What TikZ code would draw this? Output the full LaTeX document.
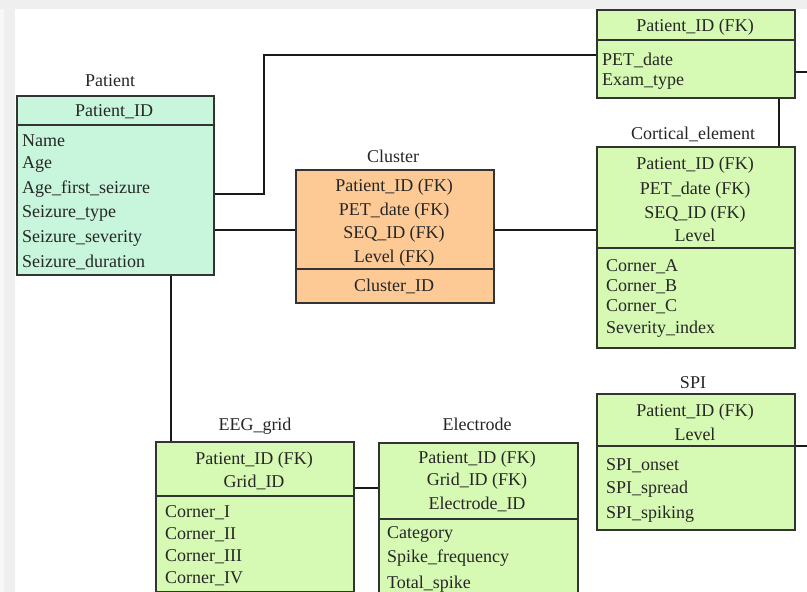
\documentclass[tikz,border=0pt]{standalone}
\usepackage{fontspec}
\setmainfont{Liberation Serif}
\begin{document}
\begin{tikzpicture}[x=1pt,y=-1pt,
  tbl/.style={draw=black!80,line width=1.6pt,inner sep=0pt,anchor=north west},
  divider/.style={draw=black!80,line width=1.6pt},
  link/.style={draw=black!90,line width=1.6pt},
  txt/.style={font=\fontsize{18}{21}\selectfont,inner sep=0pt,yshift=-4.5pt,text=black!85},
  ttl/.style={txt,anchor=mid},
  key/.style={txt,anchor=mid},
  attr/.style={txt,anchor=mid west}]
\definecolor{mint}{RGB}{200,246,220}
\definecolor{peach}{RGB}{253,201,149}
\definecolor{lime}{RGB}{214,249,180}
\definecolor{frame}{RGB}{239,239,239}
\useasboundingbox (0,0) rectangle (807,592);
% page frame
\fill[white] (0,0) rectangle (807,592);
\fill[frame] (0,0) rectangle (807,9);
\fill[frame] (0,0) rectangle (15,592);
\fill[black!3] (0,9) rectangle (4,592);
\begin{scope}
\clip (15,9) rectangle (807,592);
% Patient
\node[tbl,fill=mint,minimum width=197pt,minimum height=179pt] (pat) at (16,95) {};
\draw[divider] (16,125) -- (213,125);
\node[ttl] (patT) at (110,80) {Patient};
\node[key] (pat0) at (114,110) {Patient\_ID};
\node[attr] (pat1) at (22,140) {Name};
\node[attr] (pat2) at (22,162) {Age};
\node[attr] (pat3) at (22,187) {Age\_first\_seizure};
\node[attr] (pat4) at (22,211) {Seizure\_type};
\node[attr] (pat5) at (22,236) {Seizure\_severity};
\node[attr] (pat6) at (22,261) {Seizure\_duration};
% Cluster
\node[tbl,fill=peach,minimum width=198pt,minimum height=133pt] (clu) at (295,169) {};
\draw[divider] (295,269) -- (493,269);
\node[ttl] (cluT) at (393,156) {Cluster};
\node[key] (clu1) at (394,185) {Patient\_ID (FK)};
\node[key] (clu2) at (394,209) {PET\_date (FK)};
\node[key] (clu3) at (394,232) {SEQ\_ID (FK)};
\node[key] (clu4) at (394,256) {Level (FK)};
\node[key] (clu5) at (394,285) {Cluster\_ID};
% PET examination
\node[tbl,fill=lime,minimum width=198pt,minimum height=88pt] (pet) at (596,9) {};
\draw[divider] (596,40) -- (794,40);
\node[key] (pet0) at (695,25) {Patient\_ID (FK)};
\node[attr] (pet1) at (602,59) {PET\_date};
\node[attr] (pet2) at (602,79) {Exam\_type};
% Cortical_element
\node[tbl,fill=lime,minimum width=198pt,minimum height=201pt] (cor) at (596,146) {};
\draw[divider] (596,248) -- (794,248);
\node[ttl] (corT) at (693,133) {Cortical\_element};
\node[key] (cor1) at (695,163) {Patient\_ID (FK)};
\node[key] (cor2) at (695,188) {PET\_date (FK)};
\node[key] (cor3) at (695,212) {SEQ\_ID (FK)};
\node[key] (cor4) at (695,235) {Level};
\node[attr] (cor5) at (606,265) {Corner\_A};
\node[attr] (cor6) at (606,285) {Corner\_B};
\node[attr] (cor7) at (606,305) {Corner\_C};
\node[attr] (cor8) at (606,327) {Severity\_index};
% SPI
\node[tbl,fill=lime,minimum width=198pt,minimum height=136pt] (spi) at (596,393) {};
\draw[divider] (596,446) -- (794,446);
\node[ttl] (spiT) at (693,382) {SPI};
\node[key] (spi1) at (695,410) {Patient\_ID (FK)};
\node[key] (spi2) at (695,434) {Level};
\node[attr] (spi3) at (606,464) {SPI\_onset};
\node[attr] (spi4) at (606,487) {SPI\_spread};
\node[attr] (spi5) at (606,512) {SPI\_spiking};
% EEG_grid
\node[tbl,fill=lime,minimum width=198pt,minimum height=150pt] (eeg) at (155,441) {};
\draw[divider] (155,496) -- (353,496);
\node[ttl] (eegT) at (255,424) {EEG\_grid};
\node[key] (eeg1) at (254,458) {Patient\_ID (FK)};
\node[key] (eeg2) at (254,481) {Grid\_ID};
\node[attr] (eeg3) at (165,511) {Corner\_I};
\node[attr] (eeg4) at (165,533) {Corner\_II};
\node[attr] (eeg5) at (165,555) {Corner\_III};
\node[attr] (eeg6) at (165,577) {Corner\_IV};
% Electrode
\node[tbl,fill=lime,minimum width=199pt,minimum height=170pt] (ele) at (378,442) {};
\draw[divider] (378,519) -- (577,519);
\node[ttl] (eleT) at (477,424) {Electrode};
\node[key] (ele1) at (477,457) {Patient\_ID (FK)};
\node[key] (ele2) at (477,479) {Grid\_ID (FK)};
\node[key] (ele3) at (477,503) {Electrode\_ID};
\node[attr] (ele4) at (387,532) {Category};
\node[attr] (ele5) at (387,556) {Spike\_frequency};
\node[attr] (ele6) at (387,582) {Total\_spike};
% relations
\coordinate (petOut) at (807,72);
\coordinate (spiOut) at (807,446);
\draw[link] (pat.east |- 0,194) -| (264,55) -- (pet.west |- 0,55);
\draw[link] (pat.east |- 0,230) -- (clu.west |- 0,230);
\draw[link] (clu.east |- 0,230) -- (cor.west |- 0,230);
\draw[link] (pat.south -| 171,0) -- (eeg.north -| 171,0);
\draw[link] (eeg.east |- 0,488) -- (ele.west |- 0,488);
\draw[link] (pet.south -| 779,0) -- (cor.north -| 779,0);
\draw[link] (pet.east |- petOut) -- (petOut);
\draw[link] (spi.east |- spiOut) -- (spiOut);
\end{scope}
\end{tikzpicture}
\end{document}
